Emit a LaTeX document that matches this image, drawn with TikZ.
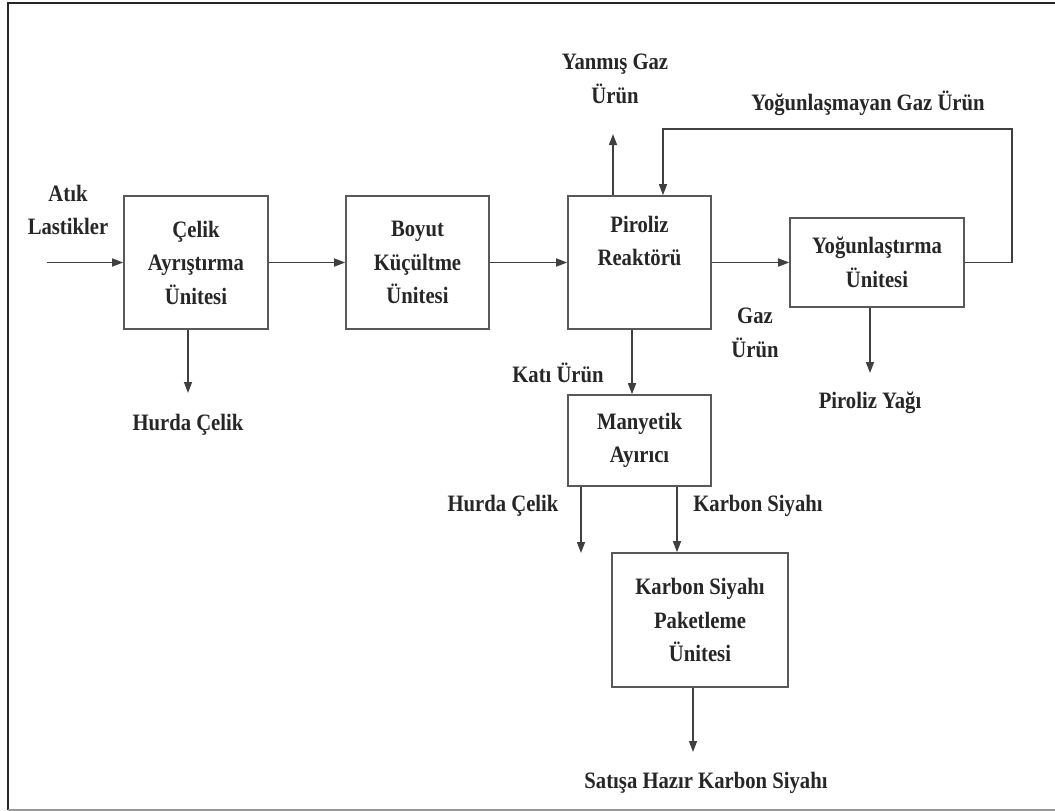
\documentclass[tikz,border=0pt]{standalone}
\usepackage{fontspec}
\setmainfont{Liberation Serif}[FakeStretch=0.88]
\usetikzlibrary{arrows.meta}
\begin{document}
\begin{tikzpicture}[x=1pt,y=-1pt,
  every node/.style={font=\fontsize{23.5}{33.5}\selectfont\bfseries, text=black!85},
  box/.style={draw=black!65, line width=1.6pt, rectangle, inner sep=0pt, align=center},
  lbl/.style={inner sep=0pt, align=center},
  arr/.style={draw=black!75, line width=1.5pt, -{Triangle[length=11pt,width=8pt]}},
  ln/.style={draw=black!75, line width=1.5pt}]
\useasboundingbox (0,0) rectangle (1055,811);
% frame
\draw[line width=2pt, black!85] (1055,3) -- (8,3) -- (8,810);
\draw[line width=2pt, black!40] (8,810) -- (1055,810);
% boxes
\node[box, minimum width=144, minimum height=133] (celik) at (196,262.5) {Çelik\\Ayrıştırma\\Ünitesi};
\node[box, minimum width=143, minimum height=133] (boyut) at (417.5,262.5) {Boyut\\Küçültme\\Ünitesi};
\node[box, minimum width=143, minimum height=133] (piroliz) at (639.5,262.5) {Piroliz\\Reaktörü\\\strut};
\node[box, minimum width=174, minimum height=89] (yogun) at (877,262.5) {Yoğunlaştırma\\Ünitesi};
\node[box, minimum width=143, minimum height=91] (manyetik) at (639.5,440.5) {Manyetik\\Ayırıcı};
\node[box, minimum width=176, minimum height=134] (karbon) at (700,620) {Karbon Siyahı\\Paketleme\\Ünitesi};
% labels
\node[lbl] (atik) at (68,210) {Atık\\Lastikler};
\node[lbl] (hurda1) at (188,425) {Hurda Çelik};
\node[lbl] (yanmis) at (615,79) {Yanmış Gaz\\Ürün};
\node[lbl] (yogunlasmayan) at (868,103) {Yoğunlaşmayan Gaz Ürün};
\node[lbl] (gaz) at (755,333) {Gaz\\Ürün};
\node[lbl] (kati) at (558,373) {Katı Ürün};
\node[lbl] (yag) at (870,403) {Piroliz Yağı};
\node[lbl] (hurda2) at (503,506) {Hurda Çelik};
\node[lbl] (ks) at (758,506) {Karbon Siyahı};
\node[lbl] (satis) at (706,783) {Satışa Hazır Karbon Siyahı};
% free ends
\coordinate (inS) at (47,262.5);
\coordinate (hurda1E) at (188,393);
\coordinate (yanmisE) at (613,134);
\coordinate (fbR) at (1012,129);
\coordinate (fbL) at (663,129);
\coordinate (hurda2E) at (581,553);
\coordinate (satisE) at (693,752);
\coordinate (yagE) at (870,373);
% connectors
\draw[arr] (inS) -- (celik.west);
\draw[arr] (celik.south -| hurda1E) -- (hurda1E);
\draw[arr] (celik.east) -- (boyut.west);
\draw[arr] (boyut.east) -- (piroliz.west);
\draw[arr] (piroliz.east) -- (yogun.west);
\draw[arr] (piroliz.north -| yanmisE) -- (yanmisE);
\draw[arr] (yogun.east) -| (fbR) -- (fbL) -- (fbL |- piroliz.north);
\draw[arr] (piroliz.south -| 632,0) -- (manyetik.north -| 632,0);
\draw[arr] (manyetik.south -| hurda2E) -- (hurda2E);
\draw[arr] (manyetik.south -| 677,0) -- (karbon.north -| 677,0);
\draw[arr] (karbon.south -| satisE) -- (satisE);
\draw[arr] (yogun.south -| yagE) -- (yagE);
\end{tikzpicture}
\end{document}
